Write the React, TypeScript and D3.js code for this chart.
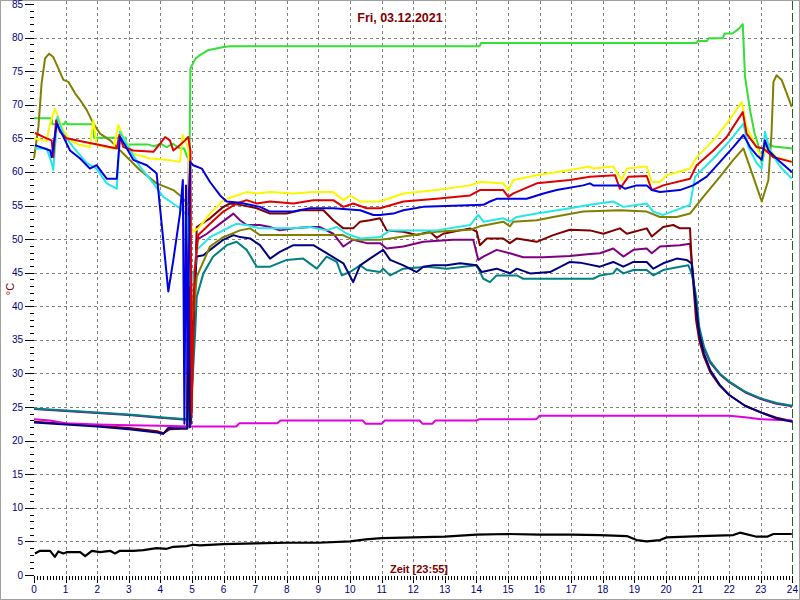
import React from "react";
import * as d3 from "d3";

type P = [number, number];

const hourTicks: number[] = d3.range(0, 25);
const tempTicks: number[] = d3.range(0, 90, 5);
const title = "Fri, 03.12.2021";
const xTitle = "Zeit [23:55]";
const yTitle = "°C";

const green: P[] = [[0,68],[0.56,68],[0.58,67.1],[0.95,67.1],[1.0,67.5],[1.05,67.1],[1.87,67.1],[1.9,65.1],[2.9,65.1],[2.93,64.1],[3.6,64.1],[3.8,63.8],[4.0,64.2],[4.2,63.7],[4.4,64.2],[4.57,63.6],[4.75,63.5],[4.85,62.2],[4.92,62],[4.95,75.4],[5.1,76.8],[5.25,77.4],[5.5,78.1],[6,78.6],[6.2,78.7],[14.1,78.7],[14.15,79.2],[20.97,79.2],[21.0,79.5],[21.3,79.5],[21.35,79.9],[21.8,79.9],[21.85,80.6],[22.1,80.6],[22.3,81.3],[22.43,82.0],[22.5,74.2],[22.66,69.2],[22.8,65.8],[22.9,64.3],[23.03,61.3],[23.19,64.3],[23.4,63.8],[24,63.5]];

const olive: P[] = [[0,62],[0.14,66.7],[0.24,73.2],[0.35,76.9],[0.48,77.6],[0.61,77.1],[0.82,74.9],[0.93,73.7],[1.09,73.4],[1.3,71.7],[1.46,70.7],[1.67,69.2],[1.88,67.2],[2.09,65.7],[2.41,64.7],[2.62,63.7],[2.83,62.7],[3.35,60.3],[3.88,58.3],[4.41,57.3],[4.67,56.3],[4.94,54.8],[5.0,38],[5.08,40],[5.15,44.4],[5.57,48.9],[5.99,50.3],[6.52,51.3],[6.84,51.6],[7.15,50.6],[8.2,50.6],[9.78,50.6],[10.1,49.9],[10.95,49.9],[11.27,50.1],[11.69,50.4],[12.74,51.1],[13.8,51.4],[14.11,51.9],[14.85,52.6],[15.06,51.9],[15.17,52.6],[15.91,52.8],[16.43,53.3],[17.38,54.1],[18.54,54.3],[19.39,54.1],[19.81,53.3],[20.34,53.3],[20.76,53.8],[21.18,56.3],[21.71,59.3],[22.13,61.8],[22.45,63.5],[22.76,59.3],[23.03,55.6],[23.24,58.8],[23.34,65.8],[23.4,73.4],[23.5,74.4],[23.66,73.7],[23.98,69.7]];

const yellow: P[] = [[0,65],[0.4,64.6],[0.51,67.2],[0.66,69.4],[0.77,68.2],[0.93,66.2],[1.14,64.7],[1.46,64.0],[1.77,63.7],[1.88,67.7],[1.98,64.0],[2.51,63.5],[2.67,67.0],[2.83,65.2],[3.14,62.7],[3.67,62.0],[4.2,61.8],[4.62,61.5],[4.7,65.5],[4.8,64.5],[4.88,63.7],[4.99,51],[5.1,51.3],[5.2,51.6],[5.57,53.8],[5.99,55.8],[6.41,56.5],[6.73,57.0],[7.05,56.8],[7.47,57.0],[8.21,56.8],[8.84,57.0],[9.47,57.0],[9.79,55.8],[10.0,56.5],[10.32,55.6],[10.95,55.6],[11.69,56.8],[12.74,57.3],[13.8,58.0],[14.11,58.5],[14.85,58.3],[15.01,57.3],[15.17,58.8],[15.91,59.5],[16.96,60.3],[17.59,60.8],[17.7,60.5],[18.33,60.8],[18.6,58.8],[18.76,60.5],[19.39,60.8],[19.55,58.5],[19.81,58.5],[20.02,59.5],[20.76,60.5],[20.97,62.2],[21.5,64.7],[21.92,67.2],[22.4,70.4],[22.55,66.7],[22.76,64.7],[23.03,62.0],[23.19,63.7],[23.5,62.2],[23.98,61.5]];

const red: P[] = [[0.03,65.8],[0.4,65.0],[0.56,64.7],[0.61,62.2],[0.7,67.7],[0.82,66.0],[1.03,65.0],[1.56,64.5],[2.09,64.0],[2.62,63.5],[2.7,65.5],[2.83,63.7],[3.14,63.2],[3.78,63.0],[3.99,64.2],[4.15,65.2],[4.3,64.7],[4.41,63.2],[4.62,64.0],[4.78,64.7],[4.88,65.2],[4.95,63.2],[4.99,24],[5.08,45],[5.2,50.6],[5.57,52.3],[5.99,54.1],[6.41,55.3],[6.73,55.8],[7.05,55.3],[7.47,55.6],[8.21,55.3],[8.84,55.8],[9.47,55.8],[9.79,54.8],[10.1,55.3],[10.53,54.6],[10.95,54.6],[11.69,55.6],[12.74,56.0],[13.8,56.5],[14.11,57.3],[14.85,57.3],[15.01,56.3],[15.17,56.8],[15.91,58.3],[16.96,58.8],[17.59,59.3],[18.39,59.5],[18.54,57.5],[18.81,59.3],[19.39,59.4],[19.55,57.3],[19.91,58.0],[20.76,59.0],[20.97,61.0],[21.5,63.2],[21.92,65.2],[22.43,68.9],[22.55,65.7],[22.87,63.7],[23.08,63.5],[23.4,62.2],[23.98,61.5]];

const blue: P[] = [[0.03,64.0],[0.51,63.2],[0.56,62.2],[0.72,67.2],[0.88,65.7],[1.14,63.2],[1.46,62.0],[1.77,60.5],[1.98,61.0],[2.3,59.0],[2.62,59.0],[2.72,65.2],[2.88,64.0],[3.14,61.8],[3.57,61.0],[3.88,59.8],[4.09,49.9],[4.25,42.2],[4.41,46.9],[4.62,53.8],[4.71,58.8],[4.76,22.5],[4.81,58],[4.86,30],[4.94,61.5],[5.04,61.0],[5.31,60.5],[5.57,58.5],[5.89,56.5],[6.1,55.6],[6.52,55.4],[7.15,54.8],[7.47,54.1],[8.21,54.1],[8.73,54.6],[9.47,54.6],[10.32,54.3],[10.74,53.6],[10.95,53.6],[11.37,53.8],[11.69,54.3],[12.32,54.8],[14.22,55.1],[14.43,55.6],[14.64,56.0],[15.59,56.0],[16.12,56.8],[16.54,57.3],[17.38,58.0],[17.59,58.3],[17.7,58.0],[18.54,58.0],[18.7,57.5],[19.07,58.0],[19.39,58.0],[19.55,57.3],[19.81,57.0],[20.44,57.3],[20.86,58.0],[21.29,59.3],[21.71,61.5],[22.13,63.7],[22.45,65.5],[22.66,63.7],[22.87,62.5],[23.03,61.8],[23.13,64.7],[23.24,63.2],[23.61,61.5],[23.98,60.0]];

const cyan: P[] = [[0.03,63.5],[0.4,63.5],[0.56,61.3],[0.61,60.3],[0.74,68.2],[0.93,65.7],[1.24,63.7],[1.67,61.3],[1.98,60.5],[2.3,58.3],[2.62,57.5],[2.72,66.0],[2.93,64.2],[3.35,60.8],[3.78,58.3],[4.09,56.3],[4.62,54.6],[4.85,53.5],[4.95,43],[5.1,46],[5.15,48.4],[5.57,50.3],[5.99,51.3],[6.41,52.3],[6.73,52.1],[7.15,51.6],[8.21,51.6],[8.73,51.8],[9.26,51.3],[9.58,51.8],[9.9,50.8],[10.32,50.1],[10.95,50.3],[11.27,51.3],[12.74,51.3],[13.8,52.1],[14.06,53.6],[14.22,52.6],[14.85,53.1],[15.06,52.6],[15.28,53.3],[15.91,53.8],[16.96,54.6],[17.59,55.1],[18.33,55.6],[18.65,54.8],[19.39,55.3],[19.6,54.1],[19.91,53.6],[20.76,55.1],[20.92,59.3],[21.5,62.0],[22.03,64.7],[22.45,67.2],[22.61,63.7],[22.87,61.3],[23.03,60.5],[23.13,66.0],[23.29,63.2],[23.61,60.8],[23.98,59.0]];

const maroon: P[] = [[0,22.8],[1,22.5],[2,22.2],[3,21.9],[3.9,21.4],[4.1,21.1],[4.3,21.7],[4.85,21.8],[4.9,62],[4.96,23],[5.05,35],[5.15,51.8],[5.57,53.1],[5.99,54.8],[6.2,55.3],[6.52,55.1],[7.05,54.6],[7.47,53.8],[8.0,53.8],[8.42,54.3],[9.16,54.3],[9.47,52.8],[9.79,51.6],[10.1,51.6],[10.32,52.6],[10.63,52.8],[10.95,53.1],[11.16,51.3],[11.69,51.1],[12.11,50.6],[12.53,51.1],[12.74,50.2],[12.95,50.8],[13.8,51.6],[14.01,51.1],[14.11,49.1],[14.33,50.1],[14.85,50.1],[15.06,49.4],[15.28,50.1],[15.91,49.6],[16.43,50.6],[16.96,51.4],[17.59,51.3],[18.02,50.8],[18.54,51.6],[18.76,50.8],[19.39,51.6],[19.55,50.4],[19.91,51.8],[20.23,52.1],[20.44,51.6],[20.76,51.6],[20.81,46.9],[20.95,38],[21.05,35],[21.2,32.5],[21.4,30.2],[21.7,28.2],[22,26.8],[22.5,25.2],[23,24.2],[23.5,23.4],[24,22.9]];

const purple: P[] = [[0,24.7],[1,24.4],[2,24.1],[3,23.8],[4,23.4],[4.85,23.1],[4.92,58],[4.97,22.5],[5.05,38],[5.15,49.9],[5.47,50.8],[5.89,52.3],[6.31,53.8],[6.52,52.8],[6.73,52.1],[7.15,52.1],[7.47,51.8],[7.78,51.3],[8.21,51.6],[8.73,51.8],[9.05,51.8],[9.47,50.8],[9.79,48.9],[10.1,49.9],[10.53,49.4],[10.95,49.4],[11.16,48.6],[11.69,48.9],[12.32,49.6],[13.27,49.9],[13.9,49.9],[14.06,46.9],[14.22,47.4],[14.64,48.4],[15.06,47.9],[15.48,47.3],[16.12,47.3],[16.96,47.5],[17.59,47.8],[17.91,47.9],[18.33,48.6],[18.65,47.4],[18.97,48.4],[19.39,48.6],[19.55,47.9],[19.81,48.9],[20.44,49.1],[20.76,49.3],[20.85,45],[20.97,39],[21.05,36.5],[21.2,33.8],[21.4,31.6],[21.7,29.9],[22,28.7],[22.5,27.2],[23,26.2],[23.5,25.5],[24,25.1]];

const navy: P[] = [[0,22.7],[1,22.4],[2,22.1],[3,21.7],[3.9,21.2],[4.09,21.0],[4.25,21.9],[4.85,21.8],[4.88,45],[4.93,22],[5.03,40],[5.15,47.4],[5.36,47.6],[5.57,48.4],[5.99,49.9],[6.31,50.6],[6.52,50.3],[6.84,50.1],[7.15,49.1],[7.47,47.1],[7.78,48.1],[8.21,49.1],[8.84,49.1],[9.26,47.9],[9.79,46.4],[10.1,43.6],[10.32,46.1],[10.63,47.1],[11.05,48.4],[11.27,46.9],[11.69,46.1],[12.11,45.1],[12.32,45.9],[12.64,46.1],[13.06,46.1],[13.48,46.4],[14.01,46.1],[14.17,45.1],[14.64,45.6],[15.06,44.9],[15.28,45.6],[15.7,44.9],[16.33,45.1],[16.96,46.6],[17.28,46.5],[17.91,45.9],[18.33,46.6],[18.65,45.9],[18.97,46.6],[19.39,46.6],[19.6,45.6],[19.91,46.4],[20.34,47.1],[20.65,46.9],[20.81,46.4],[20.95,40],[21.05,36],[21.2,33],[21.4,30.5],[21.7,28.3],[22.0,26.8],[22.5,25.2],[23.0,24.2],[23.5,23.3],[24,22.8]];

const teal: P[] = [[0,24.8],[1,24.5],[2,24.2],[3,23.9],[4,23.5],[4.85,23.2],[4.9,30],[4.95,23.5],[5.1,36],[5.15,41.4],[5.36,44.9],[5.67,47.4],[6.1,49.1],[6.41,49.6],[6.73,48.4],[7.05,45.9],[7.47,45.9],[8.0,46.9],[8.52,47.1],[8.95,45.6],[9.26,47.4],[9.58,46.6],[9.74,44.6],[10.0,45.1],[10.32,46.1],[10.53,45.4],[10.95,45.1],[11.05,45.6],[11.27,44.6],[11.69,45.6],[12.43,45.9],[13.06,45.6],[14.01,46.1],[14.22,44.1],[14.43,43.6],[14.64,44.6],[15.28,44.6],[15.48,44.1],[17.7,44.1],[17.91,44.6],[18.33,44.9],[18.44,45.6],[18.65,44.9],[18.97,45.4],[19.39,45.4],[19.6,44.6],[19.91,45.4],[20.44,45.9],[20.71,46.1],[20.81,44.9],[20.92,42.4],[20.97,40.9],[21.05,37],[21.2,34],[21.4,31.8],[21.7,30],[22.0,28.8],[22.5,27.3],[23.0,26.3],[23.5,25.6],[24,25.2]];

const magenta: P[] = [[0,23.2],[0.5,23.0],[1,22.6],[2,22.4],[3,22.3],[4,22.2],[5,22.1],[6.4,22.1],[6.5,22.6],[7.7,22.6],[7.8,23.0],[10.4,23.0],[10.5,22.5],[11,22.5],[11.1,23.0],[12.2,23.0],[12.3,22.5],[12.6,22.5],[12.7,23.0],[14,23.0],[14.1,23.2],[15.9,23.2],[16,23.7],[22,23.7],[22.5,23.5],[23,23.2],[24,23.0]];

const black: P[] = [[0.03,3.2],[0.19,3.6],[0.51,3.6],[0.66,2.7],[0.77,3.5],[0.93,3.2],[1.03,3.4],[1.46,3.4],[1.62,2.8],[1.83,3.6],[2.09,3.4],[2.41,3.6],[2.56,3.2],[2.72,3.6],[3.14,3.6],[3.46,3.7],[3.88,4.0],[4.2,3.9],[4.41,4.2],[4.83,4.3],[5.04,4.5],[5.25,4.4],[6,4.6],[7,4.7],[8,4.8],[9,4.8],[10,5.0],[10.5,5.3],[11,5.5],[12,5.6],[13,5.7],[14,6.0],[15,6.1],[16,6.0],[17,6.0],[17.91,5.95],[18.76,5.8],[19.07,5.2],[19.39,5.0],[19.81,5.2],[20.02,5.6],[21.08,5.8],[22.13,5.95],[22.34,6.3],[22.87,5.7],[23.2,5.7],[23.4,6.1],[23.98,6.1]];

const seriesList: { data: P[]; color: string; w: number }[] = [
  { data: black, color: "#000000", w: 2.2 },
  { data: purple, color: "#800080", w: 2 },
  { data: maroon, color: "#800000", w: 2 },
  { data: magenta, color: "#e000e0", w: 2 },
  { data: teal, color: "#008080", w: 2 },
  { data: navy, color: "#000080", w: 2 },
  { data: green, color: "#33e033", w: 2 },
  { data: olive, color: "#808000", w: 2 },
  { data: yellow, color: "#f8f800", w: 2 },
  { data: cyan, color: "#22e8e8", w: 2 },
  { data: red, color: "#e00000", w: 2 },
  { data: blue, color: "#0000e0", w: 2 },
];

export default function App() {
  const W = 800, H = 600;
  const x = d3.scaleLinear().domain([0, 24]).range([34, 792.4]);
  const y = d3.scaleLinear().domain([0, 85]).range([575, 4]);
  const line = d3.line<P>().x((d) => x(d[0])).y((d) => y(d[1]));
  const font = "'Liberation Sans', Arial, sans-serif";
  const minorX = d3.range(0, 240).filter((i) => i % 10 !== 0).map((i) => i / 10);
  const minorY = d3.range(0, 86).filter((i) => i % 5 !== 0);

  return (
    <svg width={W} height={H} style={{ position: "absolute", left: 0, top: 0, background: "#fff" }} fontFamily={font}>
      <rect x={0.5} y={0.5} width={W - 1} height={H - 1} fill="#fff" stroke="#a0a0a0" />
      {tempTicks.filter((t) => t > 0 && t < 85).map((t) => (
        <line key={"gh" + t} x1={34} x2={792} y1={Math.round(y(t)) + 0.5} y2={Math.round(y(t)) + 0.5} stroke="#808080" strokeDasharray="3,3" />
      ))}
      {hourTicks.filter((h) => h > 0 && h < 24).map((h) => (
        <line key={"gv" + h} x1={Math.round(x(h)) + 0.5} x2={Math.round(x(h)) + 0.5} y1={1} y2={575} stroke="#808080" strokeDasharray="3,3" />
      ))}
      <line x1={Math.round(x(24)) + 0.5} x2={Math.round(x(24)) + 0.5} y1={1} y2={575} stroke="#107010" strokeDasharray="9,3" />
      {tempTicks.map((t) => (
        <g key={"yt" + t}>
          <line x1={25} x2={34} y1={Math.round(y(t)) + 0.5} y2={Math.round(y(t)) + 0.5} stroke="#000" />
          <text x={23} y={y(t) + 3.5} textAnchor="end" fontSize={10} fill="#000080">{t}</text>
        </g>
      ))}
      {minorY.map((t) => (
        <line key={"ym" + t} x1={30} x2={34} y1={Math.round(y(t)) + 0.5} y2={Math.round(y(t)) + 0.5} stroke="#000" />
      ))}
      {hourTicks.map((h) => (
        <g key={"xt" + h}>
          <line x1={Math.round(x(h)) + 0.5} x2={Math.round(x(h)) + 0.5} y1={576} y2={583} stroke="#000" />
          <text x={x(h)} y={593} textAnchor="middle" fontSize={10} fill="#000080">{h}</text>
        </g>
      ))}
      {minorX.map((h) => (
        <line key={"xm" + h} x1={Math.round(x(h)) + 0.5} x2={Math.round(x(h)) + 0.5} y1={576} y2={580} stroke="#000" />
      ))}
      {seriesList.map((s, i) => (
        <path key={"s" + i} d={line(s.data) || ""} fill="none" stroke={s.color} strokeWidth={s.w} strokeLinejoin="round" />
      ))}
      <text x={400} y={22} textAnchor="middle" fontSize={12.5} fontWeight="bold" fill="#800000">{title}</text>
      <text x={419} y={573} textAnchor="middle" fontSize={11} fontWeight="bold" fill="#800000">{xTitle}</text>
      <text transform="translate(14,289) rotate(-90)" textAnchor="middle" fontSize={11} fill="#800000">{yTitle}</text>
    </svg>
  );
}
